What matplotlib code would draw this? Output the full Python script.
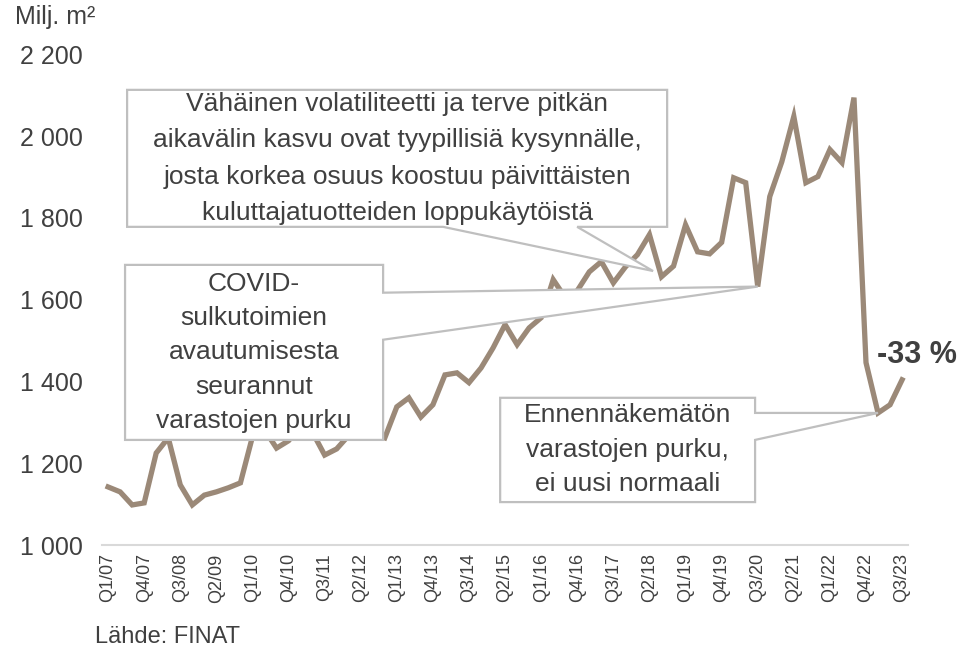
import matplotlib as mpl
mpl.use('Agg')
import matplotlib.pyplot as plt
from matplotlib.patches import Polygon

plt.rcParams['font.family'] = ['Liberation Sans', 'DejaVu Sans']

# quarterly demand, Q1/07 .. Q3/23 (milj. m2)
demand = [1142, 1130, 1098, 1103, 1225, 1262, 1147, 1098, 1122, 1130,
          1140, 1152, 1265, 1282, 1237, 1255, 1290, 1275, 1220, 1235,
          1268, 1290, 1272, 1262, 1338, 1360, 1313, 1343, 1416, 1421,
          1397, 1433, 1482, 1539, 1490, 1531, 1556, 1649, 1605, 1622,
          1668, 1693, 1641, 1680, 1710, 1759, 1656, 1682, 1783, 1717,
          1712, 1740, 1898, 1886, 1632, 1852, 1937, 2048, 1886, 1901,
          1967, 1935, 2094, 1446, 1323, 1343, 1404]
tick_labels = ['Q1/07', 'Q4/07', 'Q3/08', 'Q2/09', 'Q1/10', 'Q4/10', 'Q3/11',
               'Q2/12', 'Q1/13', 'Q4/13', 'Q3/14', 'Q2/15', 'Q1/16', 'Q4/16',
               'Q3/17', 'Q2/18', 'Q1/19', 'Q4/19', 'Q3/20', 'Q2/21', 'Q1/22',
               'Q4/22', 'Q3/23']
y_ticks = [1000, 1200, 1400, 1600, 1800, 2000, 2200]

txt1 = ("Vähäinen volatiliteetti ja terve pitkän\n"
        "aikavälin kasvu ovat tyypillisiä kysynnälle,\n"
        "josta korkea osuus koostuu päivittäisten\n"
        "kuluttajatuotteiden loppukäytöistä")
txt2 = "COVID-\nsulkutoimien\navautumisesta\nseurannut\nvarastojen purku"
txt3 = "Ennennäkemätön\nvarastojen purku,\nei uusi normaali"

line_col = '#9B8978'
text_col = '#404040'
edge_col = '#BFBFBF'

fig = plt.figure(figsize=(9.63, 6.5), dpi=100)
ax = fig.add_axes([0.106, 0.1615, 0.837, 0.755])

x = list(range(len(demand)))
ax.plot(x, demand, color=line_col, lw=3.8, solid_joinstyle='miter', zorder=2)

ax.set_xlim(-0.5, len(demand) - 0.5)
ax.set_ylim(1000, 2200)
ax.set_xticks(x[::3])
ax.set_xticklabels(tick_labels, rotation=90, fontsize=13, color=text_col)
ax.set_yticks(y_ticks)
ax.set_yticklabels([f"{v:,}".replace(",", " ") for v in y_ticks],
                   fontsize=18, color=text_col)
ax.tick_params(axis='both', length=0)
ax.tick_params(axis='y', pad=14)
ax.tick_params(axis='x', pad=6)
for s in ['top', 'right', 'left']:
    ax.spines[s].set_visible(False)
ax.spines['bottom'].set_color('#D9D9D9')
ax.spines['bottom'].set_linewidth(1.5)


def callout(box, base, tip, side, text, ls):
    x0, x1, y0, y1 = box
    if side == 'bottom':
        pts = [(x0, y1), (x1, y1), (x1, y0), (base[1], y0), tip,
               (base[0], y0), (x0, y0)]
    else:
        pts = [(x0, y1), (x1, y1), (x1, base[0]), tip, (x1, base[1]),
               (x1, y0), (x0, y0)]
    ax.add_patch(Polygon(pts, closed=True, facecolor='white',
                         edgecolor=edge_col, lw=1.6, zorder=3, clip_on=False))
    ax.text((x0 + x1) / 2, (y0 + y1) / 2, text, ha='center', va='center',
            fontsize=19, color=text_col, linespacing=ls, zorder=4)


callout((1.58, 46.47, 1778, 2113), (27.85, 38.99), (45.3, 1670), 'bottom', txt1, 1.65)
callout((1.41, 22.86, 1257, 1685), (1617, 1502), (54, 1632), 'right', txt2, 1.55)
callout((32.59, 53.78, 1105, 1360), (1323, 1257), (64, 1323), 'right', txt3, 1.55)

ax.text(63.9, 1445, '-33 %', ha='left', va='baseline',
        fontsize=22, fontweight='bold', color=text_col)

fig.text(0.016, 0.955, 'Milj. m²', fontsize=18, color=text_col, va='bottom')
fig.text(0.099, 0.003, 'Lähde: FINAT', fontsize=17, color=text_col, va='bottom')

fig.savefig('out.png', dpi=100)
